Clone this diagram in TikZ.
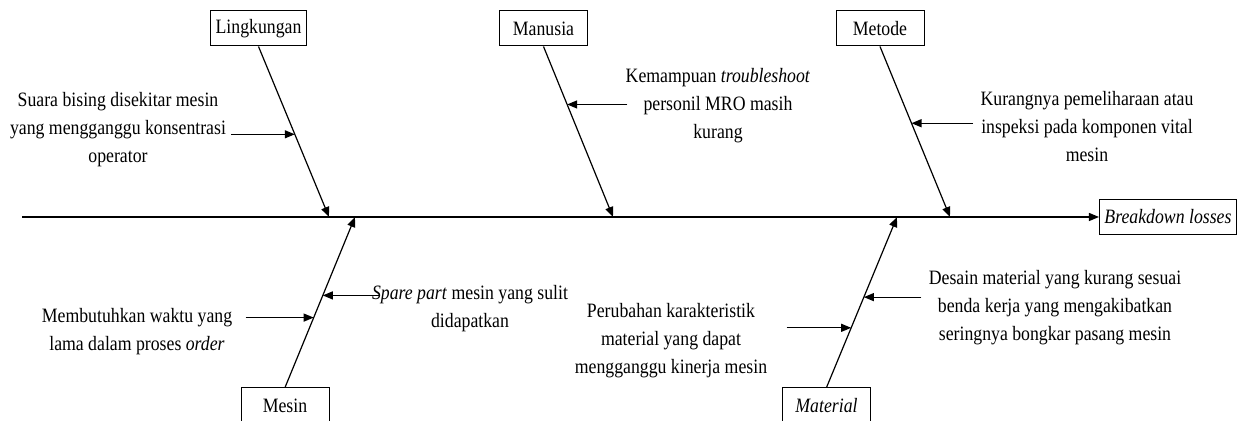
\documentclass[tikz,border=0pt]{standalone}
\usepackage{fontspec}
\setmainfont{Liberation Serif}[FakeStretch=0.87]
\usetikzlibrary{calc,arrows.meta}
\tikzset{
 catbox/.style = {draw, line width=0.5pt, minimum width=44pt, minimum height=17.5pt, inner xsep=2.5pt, inner ysep=0pt},
 note/.style = {align=center, inner sep=0pt},
 bone/.style = {line width=0.6pt, -{Triangle[length=5pt,width=4pt]}}
}
\newcommand{\causeFromRight}[3]{
    \draw[bone] ($(#2 -| #1.east) + (#3, 0)$) -- (#2);
}
\newcommand{\causeFromLeft}[3]{
    \draw[bone] ($(#2 -| #1.west) + (#3, 0)$) -- (#2);
}

\begin{document}
\begin{tikzpicture}[x=0.5pt, y=-0.5pt, font=\fontsize{10.2}{14}\selectfont]
    \useasboundingbox (0, 0) rectangle (1239, 421);

    \coordinate (tail) at (22, 217);
    \node[catbox, font=\fontsize{10.2}{14}\selectfont\itshape] (effect) at (1168, 217) {Breakdown losses};
    \draw[bone] (tail) -- (effect.west);

    \node[catbox] (ling) at (258.5, 28.5) {Lingkungan};
    \node[catbox] (manu) at (543.5, 28.5) {Manusia};
    \node[catbox] (meto) at (880, 28.5) {Metode};
    \node[catbox] (mesin) at (285, 405.5) {Mesin};
    \node[catbox, font=\fontsize{10.2}{14}\selectfont\itshape] (mate) at (826.5, 405.5) {Material};

    \coordinate (ling_e) at (329, 217);
    \coordinate (manu_e) at (613, 217);
    \coordinate (meto_e) at (950, 217);
    \coordinate (mesin_e) at (355, 217);
    \coordinate (mate_e) at (897, 217);

    \draw[bone] (ling.south) -- coordinate[pos=0.515] (ling_c) (ling_e);
    \draw[bone] (manu.south) -- coordinate[pos=0.34] (manu_c) (manu_e);
    \draw[bone] (meto.south) -- coordinate[pos=0.45] (meto_c) (meto_e);
    \draw[bone] (mesin.north) -- coordinate[pos=0.41] (mesin_c1) coordinate[pos=0.54] (mesin_c2) (mesin_e);
    \draw[bone] (mate.north) -- coordinate[pos=0.35] (mate_c1) coordinate[pos=0.53] (mate_c2) (mate_e);

    \node[note] (suara) at (118, 130) {Suara bising disekitar mesin\\yang mengganggu konsentrasi\\operator};
    \node[note] (kemampuan) at (718, 106) {Kemampuan \textit{troubleshoot}\\personil MRO masih\\kurang};
    \node[note] (kurang) at (1087, 127) {Kurangnya pemeliharaan atau\\inspeksi pada komponen vital\\mesin};
    \node[note] (waktu) at (137, 332) {Membutuhkan waktu yang\\lama dalam proses \textit{order}};
    \node[note] (spare) at (470, 309) {\textit{Spare part} mesin yang sulit\\didapatkan};
    \node[note] (ubah) at (671, 341) {Perubahan karakteristik\\material yang dapat\\mengganggu kinerja mesin};
    \node[note] (desain) at (1055, 308) {Desain material yang kurang sesuai\\benda kerja yang mengakibatkan\\seringnya bongkar pasang mesin};

    \causeFromRight{suara}{ling_c}{5}
    \causeFromLeft{kemampuan}{manu_c}{2}
    \causeFromLeft{kurang}{meto_c}{-7}
    \causeFromRight{waktu}{mesin_c1}{13}
    \causeFromLeft{spare}{mesin_c2}{8}
    \causeFromRight{ubah}{mate_c1}{19}
    \causeFromLeft{desain}{mate_c2}{-7}
\end{tikzpicture}
\end{document}
